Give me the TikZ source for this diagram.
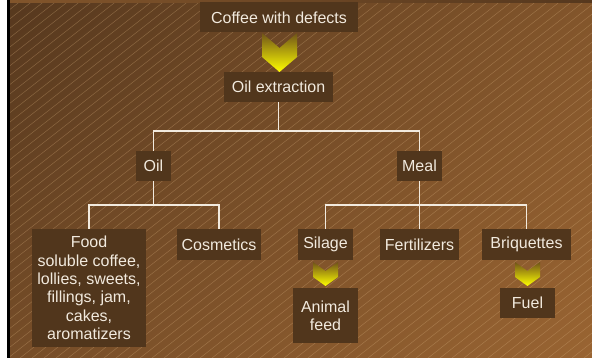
\documentclass[tikz,border=0pt]{standalone}
\usepackage{fontspec}
\setmainfont{Liberation Sans}
\usetikzlibrary{calc,shadings}

\definecolor{boxbrown}{RGB}{81,54,28}
\definecolor{boxtext}{RGB}{242,234,222}
\definecolor{bgul}{RGB}{86,56,30}
\definecolor{bgur}{RGB}{130,85,43}
\definecolor{bgll}{RGB}{118,77,40}
\definecolor{bglr}{RGB}{153,100,50}
\definecolor{hatch}{RGB}{215,175,125}
\definecolor{chevtop}{RGB}{112,84,24}

\tikzset{
  itembox/.style={fill=boxbrown, text=boxtext, font=\fontsize{16}{18.4}\selectfont,
    minimum height=30pt, inner sep=0pt, align=center},
  wire/.style={draw=boxtext, line width=1.5pt},
  chevron/.style={top color=chevtop, bottom color=yellow}
}

\begin{document}
\begin{tikzpicture}[x=1pt,y=-1pt]
    \useasboundingbox (0,0) rectangle (592,358);
    % background
    \fill[white] (0,0) rectangle (10,358);
    \shade[upper left=bgul, upper right=bgur, lower left=bgll, lower right=bglr] (10,0) rectangle (592,358);
    \begin{scope}
        \clip (10,0) rectangle (592,358);
        \foreach \i in {-460,-448,...,600}
            \draw[hatch, opacity=0.35, line width=0.5pt] (\i,358) -- (\i+458,0);
    \end{scope}
    \shade[left color=bgur, right color=bgul] (10,0) rectangle (592,3);
    \fill[black] (7,0) rectangle (10,358);

    % boxes
    \node[itembox, minimum width=158pt] (defects) at (279,17.5) {Coffee with defects};
    \node[itembox, minimum width=109pt] (extr) at (278.5,87) {Oil extraction};
    \node[itembox, minimum width=35pt] (oil) at (153.5,166) {Oil};
    \node[itembox, minimum width=45pt] (meal) at (419.5,166) {Meal};
    \node[itembox, minimum width=114pt, minimum height=118pt] (food) at (89,288)
        {Food\\soluble coffee,\\lollies, sweets,\\fillings, jam,\\cakes,\\aromatizers};
    \node[itembox, minimum width=84pt, minimum height=31pt] (cosm) at (219,244.5) {Cosmetics};
    \node[itembox, minimum width=55pt, minimum height=31pt] (silage) at (325.5,244.5) {Silage};
    \node[itembox, minimum width=79pt, minimum height=31pt] (fert) at (419.5,244.5) {Fertilizers};
    \node[itembox, minimum width=89pt, minimum height=31pt] (briq) at (526.5,244.5) {Briquettes};
    \node[itembox, minimum width=65pt, minimum height=55pt] (animal) at (325.5,315.5) {Animal\\feed};
    \node[itembox, minimum width=55pt] (fuel) at (527.5,303) {Fuel};

    % chevrons
    \shade[chevron] (262,33) -- (279.5,48) -- (297,33) -- (297,57) -- (279.5,72) -- (262,57) -- cycle;
    \shade[chevron] (313,262) -- (325.5,271) -- (338,262) -- (338,277) -- (325.5,286) -- (313,277) -- cycle;
    \shade[chevron] (515,262) -- (527.5,271) -- (540,262) -- (540,277) -- (527.5,286) -- (515,277) -- cycle;

    % tree
    \coordinate (bus1) at (0,131);
    \coordinate (bus2) at (0,205);
    \draw[wire] (extr.south) -- (extr.south |- bus1);
    \draw[wire] (oil.north) -- (oil.north |- bus1) -- (meal.north |- bus1) -- (meal.north);
    \draw[wire] (oil.south) -- (oil.south |- bus2);
    \draw[wire] (food.north) -- (food.north |- bus2) -- (cosm.north |- bus2) -- (cosm.north);
    \draw[wire] (meal.south) -- (fert.north);
    \draw[wire] (silage.north) -- (silage.north |- bus2) -- (briq.north |- bus2) -- (briq.north);
\end{tikzpicture}
\end{document}
